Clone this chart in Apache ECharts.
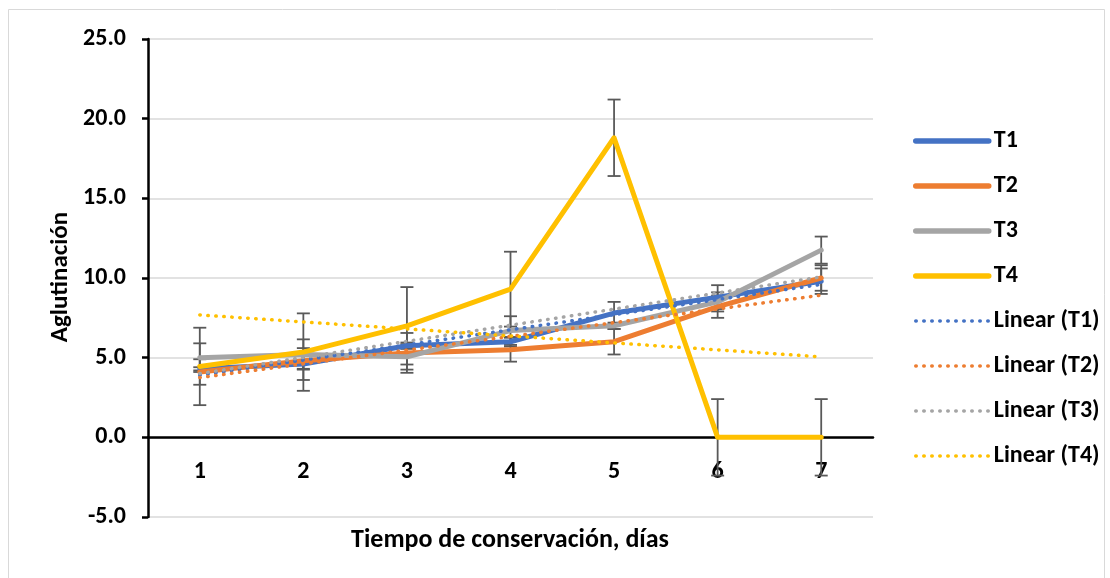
<!DOCTYPE html>
<html>
<head>
<meta charset="utf-8">
<script src="https://cdn.jsdelivr.net/npm/echarts@6/dist/echarts.min.js"></script>
<style>
html,body{margin:0;padding:0;background:#fff;}
#chart{width:1110px;height:578px;}
</style>
</head>
<body>
<div id="chart"></div>
<script>
const categories = ['1', '2', '3', '4', '5', '6', '7'];
const yTicks = ['-5.0', '0.0', '5.0', '10.0', '15.0', '20.0', '25.0'];
const seriesNames = ['T1', 'T2', 'T3', 'T4'];
const t1 = [4.3, 4.6, 5.75, 6.0, 7.8, 8.8, 9.8];
const t2 = [4.1, 4.8, 5.3, 5.5, 6.0, 8.2, 10.0];
const t3 = [5.0, 5.2, 5.05, 6.7, 7.0, 8.5, 11.75];
const t4 = [4.45, 5.35, 7.0, 9.3, 18.8, 0, 0];
const err1 = [0.1, 1.0, 0.2, 0.3, 0.7, 0.75, 0.8];
const err2 = [0.8, 0.5, 1.25, 0.75, 0.8, 0.7, 0.8];
const err3 = [0.9, 0.95, 0.8, 0.9, 0.2, 0.6, 0.85];
const err4 = [2.43, 2.43, 2.43, 2.35, 2.4, 2.4, 2.4];
// linear trend lines read at day 1 and day 7
const trend1 = [3.9, 9.6];
const trend2 = [3.75, 8.92];
const trend3 = [4.0, 10.07];
const trend4 = [7.68, 5.05];

const colors = ['#4472C4', '#ED7D31', '#A5A5A5', '#FFC000'];
const values = [t1, t2, t3, t4];
const errors = [err1, err2, err3, err4];
const trends = [trend1, trend2, trend3, trend4];
const FONT = 'Carlito, Lato, "Liberation Sans", sans-serif';
const DOT = [0.5, 7.5];

const chart = echarts.init(document.getElementById('chart'));

function trendData(tr) {
  return categories.map((c, i) => i === 0 ? tr[0] : (i === categories.length - 1 ? tr[1] : null));
}

const series = [];
values.forEach((v, k) => {
  series.push({
    name: seriesNames[k] + ' err',
    type: 'custom',
    z: 1,
    silent: true,
    data: v.map((val, i) => [i, val - errors[k][i], val + errors[k][i]]),
    renderItem: function (params, api) {
      const x = api.value(0);
      const lo = api.coord([x, api.value(1)]);
      const hi = api.coord([x, api.value(2)]);
      const w = 6.5;
      const st = { stroke: '#595959', lineWidth: 1.8 };
      return {
        type: 'group',
        children: [
          { type: 'line', shape: { x1: hi[0], y1: hi[1], x2: lo[0], y2: lo[1] }, style: st },
          { type: 'line', shape: { x1: hi[0] - w, y1: hi[1], x2: hi[0] + w, y2: hi[1] }, style: st },
          { type: 'line', shape: { x1: lo[0] - w, y1: lo[1], x2: lo[0] + w, y2: lo[1] }, style: st }
        ]
      };
    }
  });
});
values.forEach((v, k) => {
  series.push({
    name: seriesNames[k],
    type: 'line',
    z: 3 + k,
    data: v,
    symbol: 'none',
    color: colors[k],
    lineStyle: { width: 5, color: colors[k], cap: 'round', join: 'round' }
  });
});
trends.forEach((tr, k) => {
  series.push({
    name: 'Linear (' + seriesNames[k] + ')',
    type: 'line',
    z: 8,
    data: trendData(tr),
    connectNulls: true,
    symbol: 'none',
    color: colors[k],
    lineStyle: { width: 3.5, color: colors[k], type: DOT, cap: 'round' }
  });
});

const legendData = seriesNames.map((n, k) => ({ name: n, lineStyle: { width: 5.5, color: colors[k], cap: 'round' } }))
  .concat(seriesNames.map((n, k) => ({ name: 'Linear (' + n + ')', lineStyle: { width: 3.5, color: colors[k], type: DOT, cap: 'round' } })));

chart.setOption({
  animation: false,
  backgroundColor: '#fff',
  grid: { left: 148, right: 237, top: 39, bottom: 61 },
  legend: {
    orient: 'vertical',
    left: 913,
    top: 129,
    padding: 0,
    itemWidth: 73,
    itemHeight: 24,
    itemGap: 21,
    data: legendData,
    itemStyle: { opacity: 0 },
    textStyle: { fontFamily: FONT, fontWeight: 'bold', fontSize: 24, color: '#000', lineHeight: 24 }
  },
  xAxis: {
    type: 'category',
    data: categories,
    axisLine: { onZero: true, lineStyle: { color: '#000', width: 2.5 } },
    axisTick: { show: false },
    axisLabel: { margin: -57, fontFamily: FONT, fontWeight: 'bold', fontSize: 24, color: '#000' },
    splitLine: { show: false }
  },
  yAxis: {
    type: 'value',
    min: -5,
    max: 25,
    interval: 5,
    axisLine: { show: true, lineStyle: { color: '#000', width: 2.5 } },
    axisTick: { show: true, length: 6, lineStyle: { color: '#000', width: 2.5 } },
    axisLabel: {
      margin: 22, fontFamily: FONT, fontWeight: 'bold', fontSize: 24, color: '#000',
      formatter: function (v) { return yTicks[Math.round((v + 5) / 5)]; }
    },
    splitLine: { lineStyle: { color: '#D9D9D9', width: 1.5 } }
  },
  graphic: [
    { type: 'rect', shape: { x: 8.5, y: 9.5, width: 1096, height: 580 }, style: { fill: 'none', stroke: '#D9D9D9', lineWidth: 1 }, silent: true, z: -1 },
    { type: 'text', x: 61, y: 277, rotation: Math.PI / 2,
      style: { text: 'Aglutinación', fontFamily: FONT, fontWeight: 'bold', fontSize: 25, fill: '#000', textAlign: 'center', textVerticalAlign: 'middle' } },
    { type: 'text', x: 510, y: 540,
      style: { text: 'Tiempo de conservación, días', fontFamily: FONT, fontWeight: 'bold', fontSize: 26, fill: '#000', textAlign: 'center', textVerticalAlign: 'middle' } }
  ],
  series: series
});
</script>
</body>
</html>
